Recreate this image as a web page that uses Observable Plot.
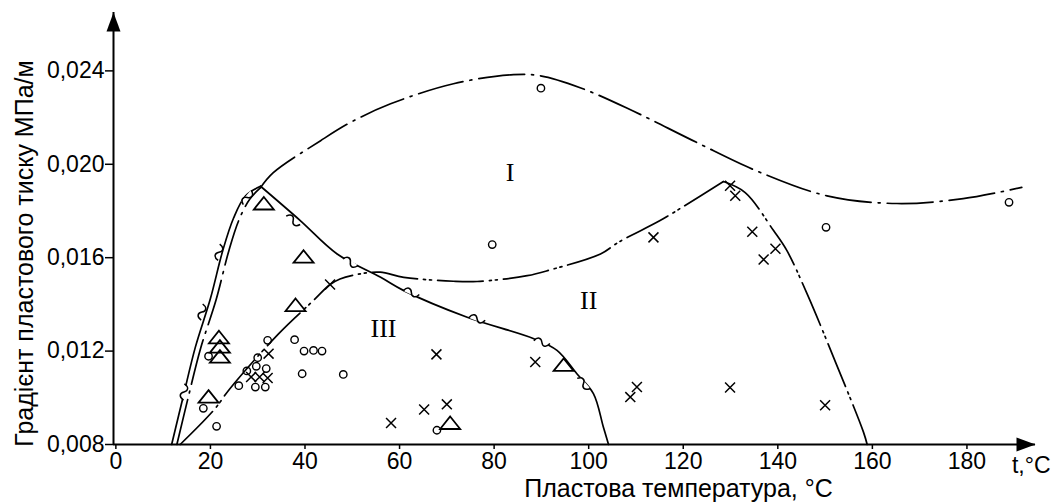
<!DOCTYPE html>
<html><head><meta charset="utf-8">
<script src="https://cdn.jsdelivr.net/npm/d3@7"></script>
<script src="https://cdn.jsdelivr.net/npm/@observablehq/plot@0.6"></script>
<style>body{margin:0;background:#fff}</style>
</head><body><div id="chart"></div>
<script>
// ---- data ----
const xTicks = [0, 20, 40, 60, 80, 100, 120, 140, 160, 180];
const yTicks = [0.008, 0.012, 0.016, 0.020, 0.024];
const xDomain = [-0.5, 194.5];
const yDomain = [0.008, 0.0265];

const circleX = [19.6,18.5,21.3,32.1,30.0,27.7,29.7,31.8,26.0,29.5,31.6,37.8,39.8,41.8,43.6,39.4,48.1,67.9,79.6,89.9,150.2,188.9];
const circleY = [0.01178,0.00955,0.00878,0.01246,0.01172,0.01115,0.01135,0.01125,0.01052,0.01046,0.01046,0.01249,0.01200,0.01203,0.01200,0.01103,0.01100,0.00861,0.01656,0.02326,0.01730,0.01837];

const crossX = [32.3,28.6,30.4,32.1,45.3,67.8,58.2,65.2,70.0,88.7,108.8,110.2,113.7,129.9,131.0,134.6,139.5,137.0,129.9,150.0];
const crossY = [0.01189,0.01089,0.01089,0.01085,0.01485,0.01186,0.00892,0.00950,0.00972,0.01153,0.01003,0.01046,0.01687,0.01908,0.01865,0.01711,0.01638,0.01592,0.01044,0.00968];

const triangleX = [21.8,22.0,22.0,19.6,31.3,39.7,38.0,94.7,70.7];
const triangleY = [0.01257,0.01217,0.01174,0.01003,0.01830,0.01602,0.01395,0.01139,0.00890];

// region I boundary (dash-dot)
const curveIleftX = [12.9,15.4,17.9,21.2,23.9,26.0,28.3,30.6];
const curveIleftY = [0.008,0.0101,0.0121,0.0142,0.0163,0.0176,0.0185,0.0190];
const curveItopX = [30.6,33.3,43.3,49.6,58.1,71.4,84.1,89.8,98.2,109.4,122.9,136.3,150.4,165.2,179.2,191.6];
const curveItopY = [0.0190,0.01964,0.02101,0.02179,0.02259,0.02345,0.02384,0.02379,0.02328,0.02228,0.02093,0.01965,0.01865,0.01832,0.01853,0.01901];

// region II boundary (dash-dot-dot)
const curveIIaX = [13.6,20.7,24.2,34.4,41.8,45.3,47.4,51.7,55.9,60.9,71.4,76.4,87.0,91.9,102.5,106.3,115.1,119.7,128.5];
const curveIIaY = [0.008,0.00947,0.01041,0.01274,0.01417,0.01485,0.01509,0.01531,0.01538,0.01516,0.01499,0.01498,0.01523,0.01548,0.01616,0.01666,0.01759,0.01815,0.01926];
const curveIIbX = [128.5,133.1,139.1,141.9,146.2,152.2,158.1,158.9];
const curveIIbY = [0.01926,0.01879,0.01716,0.01631,0.01445,0.01153,0.00854,0.008];

// region III boundary (solid with break marks)
const curveIIIleftX = [11.8,14.3,16.8,20.0,22.6,24.9,27.4,30.6];
const curveIIIleftY = [0.008,0.0101,0.01216,0.01425,0.01630,0.0177,0.01864,0.01906];
const curveIIIrightX = [30.6,39.0,46.8,56.0,60.9,74.3,88.4,93.3,97.5,101.0,103.1,104.2];
const curveIIIrightY = [0.01906,0.01759,0.01616,0.01516,0.01459,0.01345,0.01253,0.01203,0.01103,0.01018,0.00875,0.008];

const breakLeftX = [14.4,18.2,21.8,27.8];
const breakLeftY = [0.01025,0.01367,0.01623,0.01858];
const breakRightX = [37.5,49.6,62.5,76.4,90.1,98.9];
const breakRightY = [0.0176,0.0158,0.01451,0.01338,0.01238,0.01061];

const regionNames = ["I", "II", "III"];
const regionX = [83.4, 100.0, 56.6];
const regionY = [0.01965, 0.01417, 0.01296];

// ---- build ----
const W = 1053, H = 502;
const M = {left: 113, right: 18, top: 12, bottom: 58};
const pts = (xs, ys) => xs.map((x, i) => ({x, y: ys[i]}));
const sx = d3.scaleLinear(xDomain, [M.left, W - M.right]);
const sy = d3.scaleLinear(yDomain, [H - M.bottom, M.top]);
function withAngle(bx, by, cx, cy) {
  const curve = pts(cx, cy);
  return pts(bx, by).map(p => {
    let k = 0, best = Infinity;
    curve.forEach((c, i) => {
      const d = Math.hypot(sx(c.x) - sx(p.x), sy(c.y) - sy(p.y));
      if (d < best) { best = d; k = i; }
    });
    const a = curve[Math.max(0, k - 1)], b = curve[Math.min(curve.length - 1, k + 1)];
    const ang = Math.atan2(sy(b.y) - sy(a.y), sx(b.x) - sx(a.x)) * 180 / Math.PI;
    return {...p, angle: ang};
  });
}
const breaks = [
  ...withAngle(breakLeftX, breakLeftY, curveIIIleftX, curveIIIleftY),
  ...withAngle(breakRightX, breakRightY, curveIIIrightX, curveIIIrightY)
];

const arrowSym = {draw(ctx) { ctx.moveTo(0, 0); ctx.lineTo(7, 19); ctx.lineTo(-7, 19); ctx.closePath(); }};
const triSym = {draw(ctx) { ctx.moveTo(0, -7); ctx.lineTo(10, 5.5); ctx.lineTo(-10, 5.5); ctx.closePath(); }};
// break mark: a small tilde drawn along the line (symbol is horizontal, rotated by the line angle)
const gapSym = {draw(ctx) { ctx.moveTo(-7, 0); ctx.lineTo(7, 0); }};
const tildeSym = {draw(ctx) {
  ctx.moveTo(-8, 1.5);
  ctx.bezierCurveTo(-6, -4, -2, -4, 0, 0);
  ctx.bezierCurveTo(2, 4, 6, 4, 8, -1.5);
}};

const dashDot = "46,7,2,7";
const dashDotDot = "46,6,2,4,2,6";
const lineOpts = {x: "x", y: "y", curve: "catmull-rom", stroke: "black", strokeWidth: 1.7};
const fmtY = d => d3.format(".3f")(d).replace(".", ",");

const chart = Plot.plot({
  width: W, height: H,
  marginLeft: M.left, marginRight: M.right, marginTop: M.top, marginBottom: M.bottom,
  x: {domain: xDomain, axis: null},
  y: {domain: yDomain, axis: null},
  style: {fontFamily: "'Liberation Sans', Arial, sans-serif", color: "black", background: "white"},
  marks: [
    Plot.ruleX([xDomain[0]], {y1: yDomain[0], y2: yDomain[1], strokeWidth: 2}),
    Plot.ruleY([yDomain[0]], {x1: xDomain[0], x2: xDomain[1], strokeWidth: 2}),
    Plot.dot([{x: xDomain[0], y: yDomain[1]}], {x: "x", y: "y", symbol: arrowSym, fill: "black", stroke: "none", rotate: 0}),
    Plot.dot([{x: xDomain[1], y: yDomain[0]}], {x: "x", y: "y", symbol: arrowSym, fill: "black", stroke: "none", rotate: 90}),
    Plot.axisX(xTicks, {anchor: "bottom", tickSize: 5, tickPadding: 3, fontSize: 23, strokeWidth: 1.5, tickFormat: d => String(d), label: null}),
    Plot.axisY(yTicks, {anchor: "left", tickSize: 8, tickPadding: 1, fontSize: 23, strokeWidth: 1.5, tickFormat: fmtY, label: null}),
    Plot.line(pts(curveIleftX, curveIleftY), {...lineOpts, strokeDasharray: dashDot}),
    Plot.line(pts(curveItopX, curveItopY), {...lineOpts, strokeDasharray: dashDot}),
    Plot.line(pts(curveIIaX, curveIIaY), {...lineOpts, strokeDasharray: dashDotDot}),
    Plot.line(pts(curveIIbX, curveIIbY), {...lineOpts, strokeDasharray: dashDotDot}),
    Plot.line(pts(curveIIIleftX, curveIIIleftY), lineOpts),
    Plot.line(pts(curveIIIrightX, curveIIIrightY), lineOpts),
    Plot.dot(breaks, {x: "x", y: "y", symbol: gapSym, rotate: "angle", stroke: "white", strokeWidth: 4, fill: "none"}),
    Plot.dot(breaks, {x: "x", y: "y", symbol: tildeSym, rotate: "angle", stroke: "black", strokeWidth: 1.5, fill: "none"}),
    Plot.dot(pts(circleX, circleY), {x: "x", y: "y", r: 3.7, stroke: "black", strokeWidth: 1.4, fill: "none"}),
    Plot.dot(pts(crossX, crossY), {x: "x", y: "y", symbol: "times", r: 4.6, stroke: "black", strokeWidth: 1.5}),
    Plot.dot(pts(triangleX, triangleY), {x: "x", y: "y", symbol: triSym, stroke: "black", strokeWidth: 1.8, fill: "none"}),
    Plot.text(regionNames.map((t, i) => ({t, x: regionX[i], y: regionY[i]})), {x: "x", y: "y", text: "t", fontSize: 26, fontFamily: "'Liberation Serif', 'Times New Roman', serif"}),
    Plot.text(["t,°C"], {frameAnchor: "bottom-right", textAnchor: "end", lineAnchor: "middle", dx: 15, dy: 21, fontSize: 23}),
    Plot.text(["Пластова температура, °C"], {frameAnchor: "bottom", textAnchor: "middle", lineAnchor: "middle", dx: 104, dy: 44, fontSize: 25}),
    Plot.text(["Градієнт пластового тиску МПа/м"], {frameAnchor: "left", textAnchor: "middle", lineAnchor: "middle", rotate: -90, dx: -89, dy: 25, fontSize: 25})
  ]
});
document.getElementById("chart").appendChild(chart);
</script></body></html>
